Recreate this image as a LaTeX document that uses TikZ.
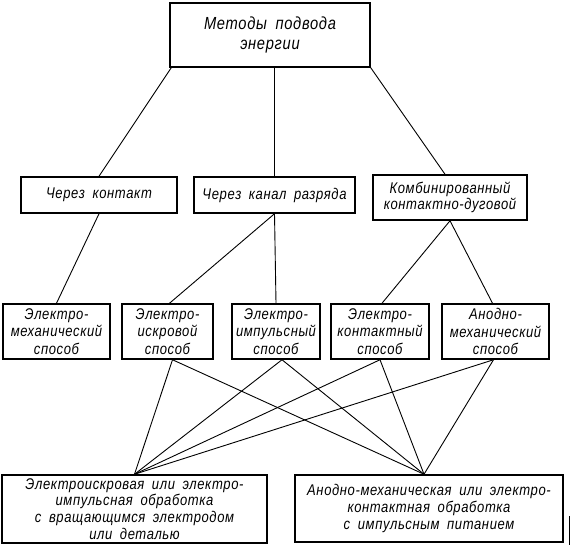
\documentclass[tikz,border=0pt]{standalone}
\usepackage{fontspec}
\setmainfont{Liberation Sans}
\newfontfamily\gost{Liberation Sans}[WordSpace=1.8,LetterSpace=4,FakeStretch=0.84]
\begin{document}
\begin{tikzpicture}[x=1pt,y=-1pt,
  box/.style={draw,line width=1.5pt,inner sep=0pt,align=center,
    font=\gost\itshape\fontsize{15.5}{17.5}\selectfont},
  conn/.style={line width=0.9pt}]
\useasboundingbox (0,0) rectangle (572,549);
% level 1
\node[box,minimum width=200pt,minimum height=64pt,font=\gost\itshape\fontsize{17.5}{19.5}\selectfont]
  (top) at (270,35) {Методы подвода\\энергии};
% level 2
\node[box,minimum width=156pt,minimum height=36pt] (c1) at (99,195) {Через контакт};
\node[box,minimum width=161pt,minimum height=36pt] (c2) at (274.5,195) {Через канал разряда};
\node[box,minimum width=154pt,minimum height=45pt,font=\gost\itshape\fontsize{15.5}{16.5}\selectfont]
  (c3) at (450,197.5) {Комбинированный\\контактно-дуговой};
% level 3
\node[box,minimum width=107pt,minimum height=55pt] (a) at (56.5,331.5) {Электро-\\механический\\способ};
\node[box,minimum width=91pt,minimum height=55pt] (b) at (167.5,331.5) {Электро-\\искровой\\способ};
\node[box,minimum width=88pt,minimum height=55pt] (c) at (276,331.5) {Электро-\\импульсный\\способ};
\node[box,minimum width=98pt,minimum height=55pt] (d) at (380,331.5) {Электро-\\контактный\\способ};
\node[box,minimum width=107pt,minimum height=55pt] (e) at (495.5,331.5) {Анодно-\\механический\\способ};
% level 4
\node[box,minimum width=265pt,minimum height=68pt,font=\gost\itshape\fontsize{15.5}{16.8}\selectfont]
  (l) at (134.5,509) {Электроискровая или электро-\\импульсная обработка\\с вращающимся электродом\\или деталью};
\node[box,minimum width=268pt,minimum height=67pt,font=\gost\itshape\fontsize{15.5}{17}\selectfont]
  (r) at (429,508.5) {Анодно-механическая или электро-\\контактная обработка\\с импульсным питанием};
% connectors level 1 -> 2
\draw[conn] ([xshift=2pt]top.south west) -- (c1.north);
\draw[conn] (c2.north |- top.south) -- (c2.north);
\draw[conn] (top.south east) -- ([xshift=-5pt]c3.north);
% level 2 -> 3
\draw[conn] (c1.south) -- (a.north);
\draw[conn] (c2.south) -- ([xshift=2pt]b.north);
\draw[conn] (c2.south) -- (c.north);
\draw[conn] (c3.south) -- ([xshift=2pt]d.north);
\draw[conn] (c3.south) -- ([xshift=-3pt]e.north);
% level 3 -> 4
\foreach \s/\dx in {b/5,c/6,d/0,e/-2}{
  \draw[conn] ([xshift=\dx pt]\s.south) -- (l.north);
  \draw[conn] ([xshift=\dx pt]\s.south) -- ([xshift=-5pt]r.north);
}
% scan mark
\coordinate (m1) at (569,516);
\coordinate (m2) at (569,545);
\draw[line width=0.8pt] (m1) -- (m2);
\end{tikzpicture}
\end{document}
